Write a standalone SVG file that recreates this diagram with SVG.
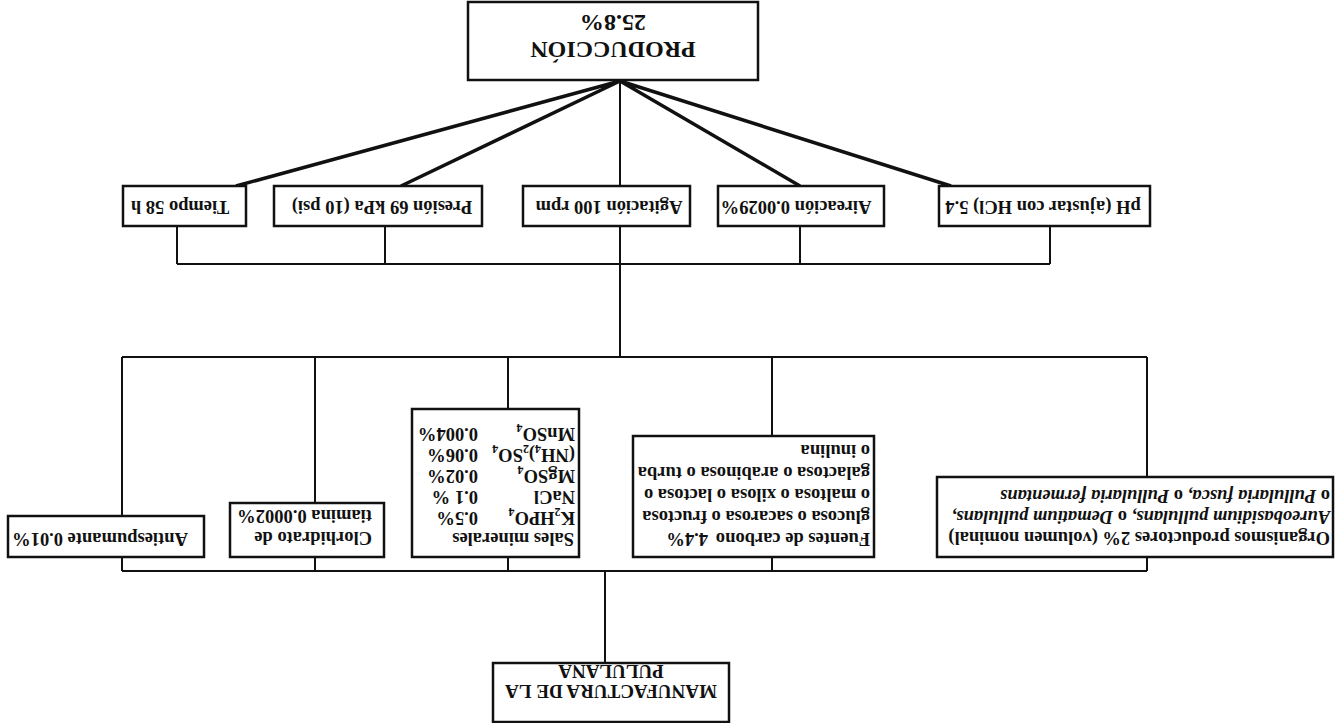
<svg xmlns="http://www.w3.org/2000/svg" width="1336" height="723" viewBox="0 0 1336 723">
<style>
.box{fill:#fff;stroke:#111;stroke-width:2.5}
.ln{stroke:#111;stroke-width:2;fill:none}
.fan{stroke:#111;stroke-width:3.5;fill:none}
.t{font-family:"Liberation Serif","Times New Roman",serif;font-weight:bold;font-size:18.5px;fill:#111}
.m{text-anchor:middle}
.big{font-size:24px}
.cap{font-size:19px}
.i{font-style:italic}
.sub{font-size:12px}
</style>
<rect width="1336" height="723" fill="#fff"/>
<g transform="rotate(180 668 361.5)">
<g id="connectors">
<path class="ln" d="M731 60V152M189 152H1214M1214 152V166M1021 152V166M828 152V166M564 152V166M189 152V166M1214 207V366M1021 220V366M828 314V366M564 287V366M189 246V366M189 366H1214M716 366V459M286 459H1159M1159 459V497M951 459V497M716 459V497M536 459V497M286 459V497"/>
<path class="fan" d="M716 642L1100 537M716 642L935 537M716 642L536 537M716 642L385 537"/>
<path class="ln" d="M716 642V537"/>
</g>
<g id="manufactura">
<rect class="box" x="607" y="1" width="236" height="59"/>
<text class="t cap m" x="725" y="38">MANUFACTURA DE LA</text>
<text class="t cap m" x="725" y="58">PULULANA</text>
</g>
<g id="organismos">
<rect class="box" x="3" y="166" width="396" height="80"/>
<text class="t" x="6" y="191">Organismos productores 2% (volumen nominal)</text>
<text class="t" x="6" y="212"><tspan class="i">Aureobasidium pullulans,</tspan> o <tspan class="i">Dematium pullulans,</tspan></text>
<text class="t" x="6" y="233">o <tspan class="i">Pullularia fusca,</tspan> o <tspan class="i">Pullularia fermentans</tspan></text>
</g>
<g id="fuentes">
<rect class="box" x="462" y="166" width="241" height="121"/>
<text class="t" x="466" y="190">Fuentes de carbono<tspan x="628">4.4%</tspan></text>
<text class="t" x="466" y="212">glucosa o sacarosa o fructosa</text>
<text class="t" x="466" y="234">o maltosa o xilosa o lactosa o</text>
<text class="t" x="466" y="256">galactosa o arabinosa o turba</text>
<text class="t" x="466" y="278">o inulina</text>
</g>
<g id="sales">
<rect class="box" x="757" y="166" width="167" height="148"/>
<text class="t" x="762" y="190">Sales minerales</text>
<text class="t" x="761" y="211">K<tspan class="sub" dy="4">2</tspan><tspan dy="-4">HPO</tspan><tspan class="sub" dy="4">4</tspan></text>
<text class="t" x="858" y="211">0.5%</text>
<text class="t" x="761" y="232">NaCl</text>
<text class="t" x="858" y="232">0.1 %</text>
<text class="t" x="761" y="253">MgSO<tspan class="sub" dy="4">4</tspan></text>
<text class="t" x="858" y="253">0.02%</text>
<text class="t" x="761" y="274">(NH<tspan class="sub" dy="4">4</tspan><tspan dy="-4">)</tspan><tspan class="sub" dy="4">2</tspan><tspan dy="-4">SO</tspan><tspan class="sub" dy="4">4</tspan></text>
<text class="t" x="858" y="274">0.06%</text>
<text class="t" x="761" y="295">MnSO<tspan class="sub" dy="4">4</tspan></text>
<text class="t" x="858" y="295">0.004%</text>
</g>
<g id="clorhidrato">
<rect class="box" x="952" y="166" width="154" height="54"/>
<text class="t" x="964" y="191">Clorhidrato de</text>
<text class="t" x="964" y="213">tiamina 0.0002%</text>
</g>
<g id="antiespumante">
<rect class="box" x="1132" y="166" width="196" height="41"/>
<text class="t m" x="1236" y="190">Antiespumante 0.01%</text>
</g>
<g id="ph">
<rect class="box" x="186" y="497" width="211" height="40"/>
<text class="t m" x="293" y="522">pH (ajustar con HCl) 5.4</text>
</g>
<g id="aireacion">
<rect class="box" x="452" y="497" width="166" height="40"/>
<text class="t m" x="540" y="522">Aireación 0.0029%</text>
</g>
<g id="agitacion">
<rect class="box" x="646" y="497" width="167" height="40"/>
<text class="t m" x="727" y="522">Agitación 100 rpm</text>
</g>
<g id="presion">
<rect class="box" x="854" y="497" width="208" height="40"/>
<text class="t m" x="954" y="522">Presión 69 kPa (10 psi)</text>
</g>
<g id="tiempo">
<rect class="box" x="1090" y="497" width="123" height="40"/>
<text class="t m" x="1156" y="522">Tiempo 58 h</text>
</g>
<g id="produccion">
<rect class="box" x="578" y="643" width="290" height="78"/>
<text class="t big m" x="723" y="681">PRODUCCIÓN</text>
<text class="t big m" x="723" y="708">25.8%</text>
</g>
</g>
</svg>
